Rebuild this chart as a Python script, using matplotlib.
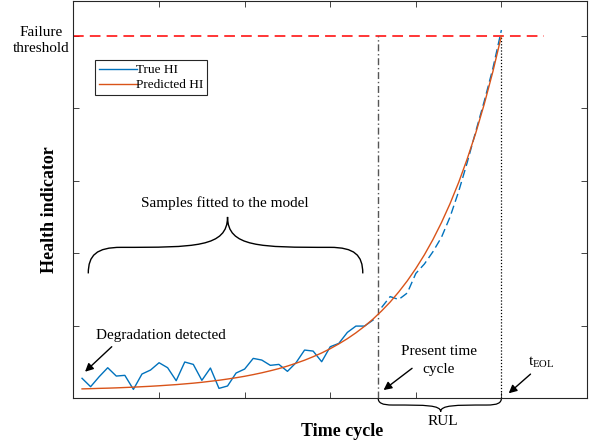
import matplotlib
matplotlib.use("Agg")
import matplotlib.pyplot as plt
from matplotlib.path import Path
from matplotlib.patches import PathPatch

plt.rcParams['font.family'] = ['Liberation Serif', 'DejaVu Serif']
plt.rcParams['mathtext.fontset'] = 'custom'
plt.rcParams['mathtext.rm'] = 'Liberation Serif'

# valori (ciclo, HI)
cicli_veri = list(range(1, 36))
hi_vero = [0.272, 0.156, 0.294, 0.418, 0.303, 0.313, 0.119, 0.331, 0.386, 0.487,
           0.418, 0.239, 0.497, 0.464, 0.244, 0.414, 0.133, 0.166, 0.345, 0.400,
           0.547, 0.524, 0.451, 0.464, 0.368, 0.487, 0.662, 0.648, 0.501, 0.708,
           0.754, 0.906, 0.993, 0.993, 1.076]

cicli_futuri = list(range(36, 51))
hi_futuro = [1.25, 1.40, 1.36, 1.45, 1.72, 1.85, 2.02, 2.22, 2.50, 2.85,
             3.25, 3.68, 4.10, 4.55, 5.08]

cicli_pred = list(range(1, 51))
hi_pred = [0.126, 0.129, 0.133, 0.136, 0.140, 0.145, 0.150, 0.156, 0.162, 0.169,
           0.177, 0.185, 0.195, 0.205, 0.217, 0.231, 0.245, 0.262, 0.280, 0.300,
           0.323, 0.348, 0.376, 0.406, 0.441, 0.480, 0.522, 0.570, 0.622, 0.681,
           0.747, 0.819, 0.900, 0.990, 1.090, 1.202, 1.325, 1.464, 1.617, 1.788,
           1.977, 2.188, 2.423, 2.684, 2.975, 3.300, 3.658, 4.060, 4.505, 5.000]

soglia = 5.0
ciclo_presente = 35.6
ciclo_eol = 50.0

blu = '#0072BD'
arancio = '#D95319'


def graffa(ax, x0, x1, xm, ye, yf, yt, **kw):
    # graffa orizzontale: estremi a ye, tratto piatto a yf, punta a yt
    w = x1 - x0
    v = [(x0, ye),
         (x0, ye + 0.7 * (yf - ye)), (x0 + 0.03 * w, yf), (x0 + 0.12 * w, yf),
         (xm - 0.12 * w, yf), (xm, yf), (xm, yt),
         (xm, yf), (xm + 0.12 * w, yf), (x1 - 0.12 * w, yf),
         (x1 - 0.03 * w, yf), (x1, ye + 0.7 * (yf - ye)), (x1, ye)]
    c = [Path.MOVETO] + [Path.CURVE4] * 12
    ax.add_patch(PathPatch(Path(v, c), fill=False, clip_on=False, **kw))


fig = plt.figure(figsize=(5.96, 4.46), dpi=100)
ax = fig.add_axes([0.1233, 0.1076, 0.8616, 0.890])

ax.plot([0, 55], [soglia, soglia], color='#FF0000', lw=1.1, dashes=(7, 4))
ax.plot([ciclo_presente, ciclo_presente], [0, soglia], color='#555555', lw=1.0,
        dashes=(5, 2, 1, 2))
ax.plot([ciclo_eol, ciclo_eol], [0, soglia], color='black', lw=0.9, dashes=(1, 1.5))

ax.plot(cicli_veri, hi_vero, color=blu, lw=1.0, label='True HI')
ax.plot(cicli_futuri, hi_futuro, color=blu, lw=1.0, dashes=(6, 3))
ax.plot(cicli_pred, hi_pred, color=arancio, lw=1.0, label='Predicted HI')

ax.set_xlim(0, 60)
ax.set_ylim(0, 5.48)
ax.set_xticks([10, 20, 30, 40, 50])
ax.set_yticks([1, 2, 3, 4, 5])
ax.tick_params(direction='in', length=4, width=0.6, top=True, right=True,
               labelbottom=False, labelleft=False, color='0.15')
for s in ax.spines.values():
    s.set_linewidth(0.8)
    s.set_color('0.15')

leg = ax.legend(loc='upper left', bbox_to_anchor=(0.042, 0.851), borderaxespad=0,
                fontsize=9.5, fancybox=False, edgecolor='0.15', framealpha=1,
                handlelength=2.9, handletextpad=-0.1, borderpad=0.3, labelspacing=0.2)
leg.get_frame().set_linewidth(0.8)

# graffe
graffa(ax, 1.73, 33.8, 18.0, 1.72, 2.08, 2.50, color='black', lw=1.0)
graffa(ax, 35.6, 50.0, 42.9, 0.0, -0.097, -0.19, color='black', lw=0.9)

ax.text(17.7, 2.69, 'Samples fitted to the model', fontsize=11, ha='center', va='center')
ax.text(43.1, -0.33, 'RUL', fontsize=11, ha='center', va='center', clip_on=False)
ax.text(2.6, 0.86, 'Degradation detected', fontsize=11, ha='left', va='center')
ax.text(42.7, 0.52, 'Present time\ncycle', fontsize=11, ha='center', va='center',
        multialignment='center', linespacing=1.45)
ax.text(54.7, 0.50, r't$_{\mathrm{EOL}}$', fontsize=11, ha='center', va='center')

freccia = dict(arrowstyle='-|>', color='black', lw=1.0, mutation_scale=12,
               shrinkA=0, shrinkB=0)
ax.annotate('', xy=(1.35, 0.363), xytext=(4.47, 0.708), arrowprops=freccia)
ax.annotate('', xy=(36.23, 0.11), xytext=(39.56, 0.41), arrowprops=freccia)
ax.annotate('', xy=(50.85, 0.065), xytext=(53.4, 0.33), arrowprops=freccia)

fig.text(41 / 596, 1 - 40 / 446, 'Failure\nthreshold', fontsize=11, ha='center',
         va='center', multialignment='center', linespacing=1.3)
fig.text(49 / 596, 1 - 210 / 446, 'Health indicator', fontsize=13, fontweight='bold',
         rotation=90, ha='center', va='center')
fig.text(342 / 596, 1 - 431 / 446, 'Time cycle', fontsize=13, fontweight='bold',
         ha='center', va='center')

fig.savefig('out.png', dpi=100)
